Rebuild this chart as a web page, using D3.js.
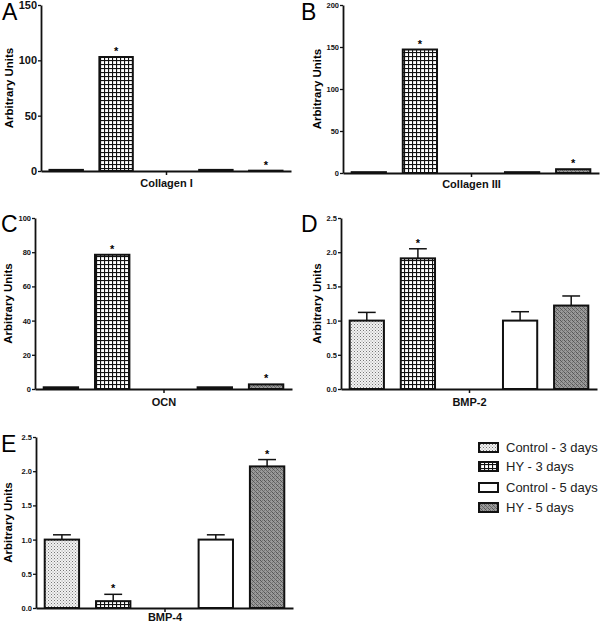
<!DOCTYPE html>
<html><head><meta charset="utf-8">
<script src="https://d3js.org/d3.v7.min.js"></script>
<style>body{margin:0;background:#fff}svg{display:block}text{font-family:"Liberation Sans",Arial,sans-serif}</style>
</head><body>
<script>
// ---- data ----
const groups = ["Control - 3 days", "HY - 3 days", "Control - 5 days", "HY - 5 days"];
const slotOf = [0, 1, 3, 4]; // empty slot 2 between the 3-day and 5-day bars
const panelLetters = ["A", "B", "C", "D", "E"];
const categories = ["Collagen I", "Collagen III", "OCN", "BMP-2", "BMP-4"];
const colI = [1, 103, 1, 0.3];
const colIII = [1, 147, 1, 4.5];
const ocn = [1, 78.5, 1, 2.7];
const bmp2 = [1.0, 1.91, 1.0, 1.22];
const bmp2Err = [0.12, 0.14, 0.13, 0.14];
const bmp4 = [1.0, 0.10, 1.0, 2.07];
const bmp4Err = [0.07, 0.10, 0.07, 0.10];
const sigColI = [false, true, false, true];
const sigColIII = [false, true, false, true];
const sigOcn = [false, true, false, true];
const sigBmp2 = [false, true, false, false];
const sigBmp4 = [false, true, false, true];
const ticksColI = [0, 50, 100, 150];
const ticksColIII = [0, 50, 100, 150, 200];
const ticksOcn = [0, 20, 40, 60, 80, 100];
const ticksBmp = [0, 0.5, 1.0, 1.5, 2.0, 2.5];

const W = 600, H = 623;
const svg = d3.select("body").append("svg").attr("width", W).attr("height", H);

// patterns
const defs = svg.append("defs");
const pStip = defs.append("pattern").attr("id", "pStip").attr("patternUnits", "userSpaceOnUse").attr("width", 3).attr("height", 3);
pStip.append("rect").attr("width", 3).attr("height", 3).attr("fill", "#f2f2f2");
pStip.append("rect").attr("x", 0).attr("y", 0).attr("width", 1).attr("height", 1).attr("fill", "#777");
pStip.append("rect").attr("x", 1.5).attr("y", 1.5).attr("width", 1).attr("height", 1).attr("fill", "#999");
const pGrid = defs.append("pattern").attr("id", "pGrid").attr("patternUnits", "userSpaceOnUse").attr("width", 4).attr("height", 4);
pGrid.append("rect").attr("width", 4).attr("height", 4).attr("fill", "#fff");
pGrid.append("rect").attr("x", 0).attr("y", 0).attr("width", 4).attr("height", 1.1).attr("fill", "#111");
pGrid.append("rect").attr("x", 0).attr("y", 0).attr("width", 1.1).attr("height", 4).attr("fill", "#111");
const pHatch = defs.append("pattern").attr("id", "pHatch").attr("patternUnits", "userSpaceOnUse").attr("width", 4).attr("height", 4);
pHatch.append("rect").attr("width", 4).attr("height", 4).attr("fill", "#9a9a9a");
pHatch.append("rect").attr("x", 0).attr("y", 0).attr("width", 1).attr("height", 1).attr("fill", "#555");
pHatch.append("rect").attr("x", 1).attr("y", 1).attr("width", 1).attr("height", 1).attr("fill", "#555");
pHatch.append("rect").attr("x", 2).attr("y", 2).attr("width", 1).attr("height", 1).attr("fill", "#666");
pHatch.append("rect").attr("x", 3).attr("y", 3).attr("width", 1).attr("height", 1).attr("fill", "#666");
pHatch.append("rect").attr("x", 2).attr("y", 0).attr("width", 1).attr("height", 1).attr("fill", "#777");
pHatch.append("rect").attr("x", 0).attr("y", 2).attr("width", 1).attr("height", 1).attr("fill", "#777");
const fills = ["url(#pStip)", "url(#pGrid)", "#fff", "url(#pHatch)"];

const panels = [
  {x0: 41, x1: 291, yTop: 5, yBot: 171, max: 150, vals: colI, err: null, sig: sigColI, ticks: ticksColI, fmt: d3.format("d"), tickFs: 11, lx: 2, ly: 20, labX: 9, catDy: 16},
  {x0: 343, x1: 599, yTop: 5, yBot: 173, max: 200, vals: colIII, err: null, sig: sigColIII, ticks: ticksColIII, fmt: d3.format("d"), tickFs: 7.5, lx: 301, ly: 20, labX: 317, catDy: 15},
  {x0: 35, x1: 292, yTop: 218, yBot: 389, max: 100, vals: ocn, err: null, sig: sigOcn, ticks: ticksOcn, fmt: d3.format("d"), tickFs: 7.5, lx: 1, ly: 232, labX: 8, catDy: 17},
  {x0: 341, x1: 597, yTop: 218, yBot: 389, max: 2.5, vals: bmp2, err: bmp2Err, sig: sigBmp2, ticks: ticksBmp, fmt: d3.format(".1f"), tickFs: 7.5, lx: 301, ly: 232, labX: 317, catDy: 17},
  {x0: 36, x1: 293, yTop: 437, yBot: 608, max: 2.5, vals: bmp4, err: bmp4Err, sig: sigBmp4, ticks: ticksBmp, fmt: d3.format(".1f"), tickFs: 7.5, lx: 1, ly: 452, labX: 8, catDy: 13}
];

panels.forEach((p, i) => {
  const g = svg.append("g");
  const x = d3.scaleBand().domain([0, 1, 2, 3, 4]).range([p.x0, p.x1]).paddingInner(0.33).paddingOuter(0.17);
  const y = d3.scaleLinear().domain([0, p.max]).range([p.yBot, p.yTop]);
  // bars
  p.vals.forEach((v, k) => {
    const bx = x(slotOf[k]), bw = x.bandwidth();
    g.append("rect").attr("x", bx).attr("y", y(v)).attr("width", bw).attr("height", Math.max(0, y(0) - y(v)))
      .attr("fill", fills[k]).attr("stroke", "#111").attr("stroke-width", 2);
    let top = y(v);
    if (p.err) {
      const ey = y(v + p.err[k]);
      const cx = bx + bw / 2;
      g.append("line").attr("x1", cx).attr("x2", cx).attr("y1", y(v)).attr("y2", ey).attr("stroke", "#111").attr("stroke-width", 1.5);
      g.append("line").attr("x1", cx - bw * 0.26).attr("x2", cx + bw * 0.26).attr("y1", ey).attr("y2", ey).attr("stroke", "#111").attr("stroke-width", 1.5);
      top = ey;
    }
    if (p.sig[k]) {
      g.append("text").attr("x", bx + bw / 2).attr("y", top - 2).attr("text-anchor", "middle")
        .attr("font-size", 11).attr("font-weight", "bold").text("*");
    }
  });
  // y axis
  const ya = d3.axisLeft(y).tickValues(p.ticks).tickFormat(p.fmt).tickSize(3).tickSizeOuter(0);
  const yg = g.append("g").attr("transform", `translate(${p.x0},0)`).call(ya);
  yg.select(".domain").attr("stroke", "#111").attr("stroke-width", 1.8);
  yg.selectAll(".tick line").attr("stroke", "#111").attr("stroke-width", 1.3);
  yg.selectAll(".tick text").attr("font-size", p.tickFs).attr("font-weight", "bold").attr("fill", "#111")
    .attr("font-family", "Liberation Sans, Arial, sans-serif").attr("x", -4);
  // x axis
  const xa = d3.axisBottom(d3.scalePoint().domain([categories[i]]).range([p.x0, p.x1]).padding(0.5)).tickSize(4).tickSizeOuter(0);
  const xg = g.append("g").attr("transform", `translate(0,${p.yBot})`).call(xa);
  xg.select(".domain").attr("stroke", "#111").attr("stroke-width", 1.8);
  xg.selectAll(".tick line").attr("stroke", "#111").attr("stroke-width", 1.5);
  xg.selectAll(".tick text").attr("font-size", 11).attr("font-weight", "bold").attr("fill", "#111")
    .attr("font-family", "Liberation Sans, Arial, sans-serif").attr("y", p.catDy).attr("dy", null);
  // y label
  g.append("text").attr("transform", `translate(${p.labX + 4},${(p.yTop + p.yBot) / 2}) rotate(-90)`)
    .attr("text-anchor", "middle").attr("font-size", 11.5).attr("font-weight", "bold").text("Arbitrary Units");
  // panel letter
  g.append("text").attr("x", p.lx).attr("y", p.ly).attr("font-size", 23).text(panelLetters[i]);
});

// legend
const legY = [447.5, 466.5, 487.5, 507.5];
const lg = svg.append("g");
groups.forEach((name, k) => {
  lg.append("rect").attr("x", 479).attr("y", legY[k] - 4.5).attr("width", 19).attr("height", 9)
    .attr("fill", fills[k]).attr("stroke", "#111").attr("stroke-width", 2);
  lg.append("text").attr("x", 506).attr("y", legY[k] + 4.5).attr("font-size", 13).attr("fill", "#222").text(name);
});
</script>
</body></html>
